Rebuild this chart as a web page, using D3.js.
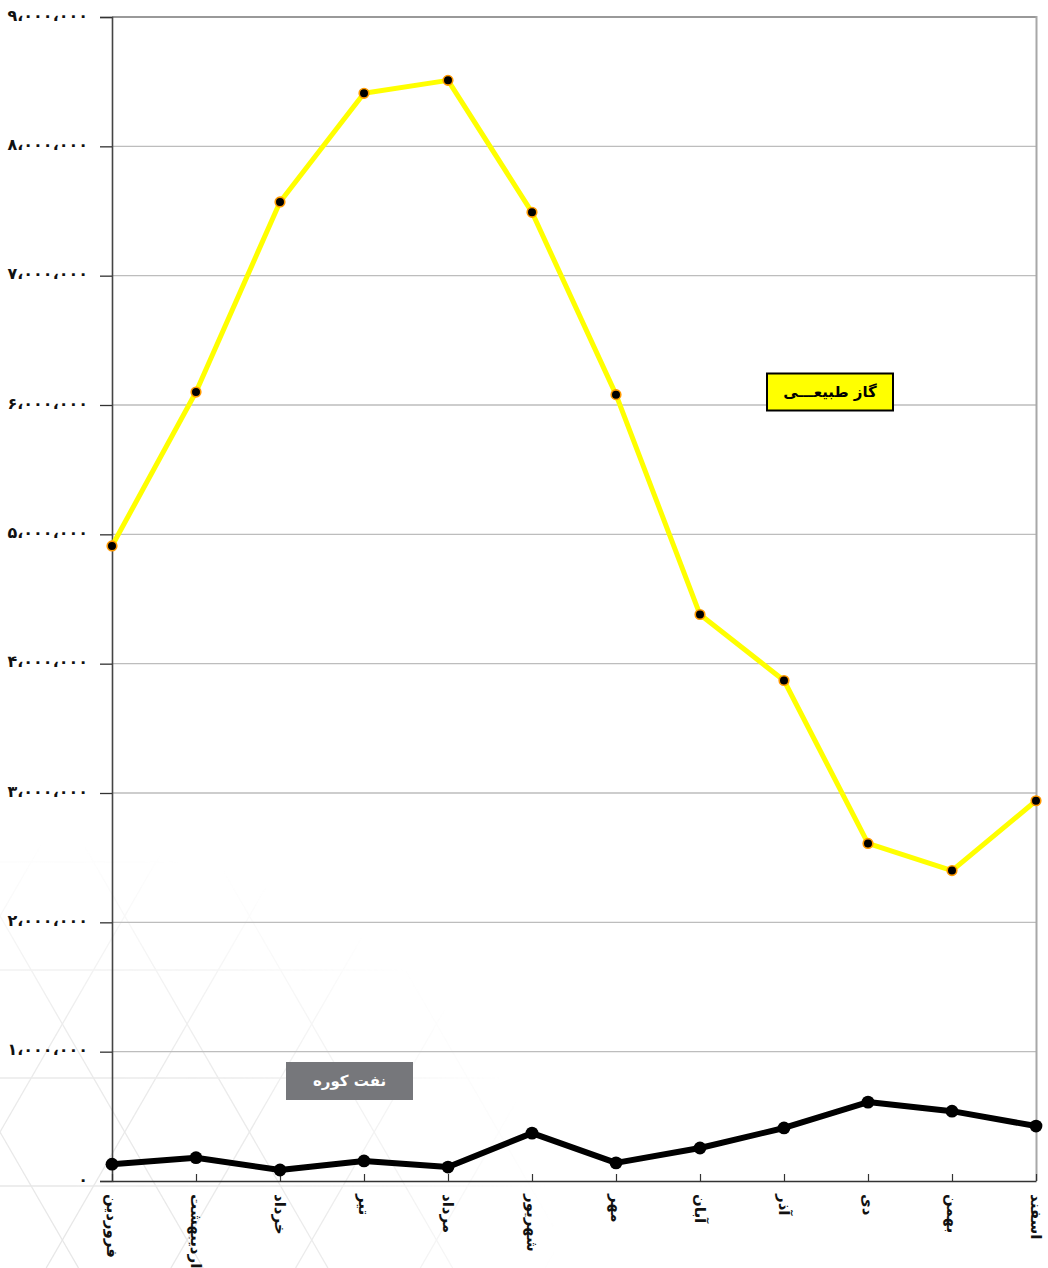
<!DOCTYPE html>
<html><head><meta charset="utf-8">
<script src="https://cdn.jsdelivr.net/npm/d3@7"></script>
<style>html,body{margin:0;padding:0;background:#fff;}svg{display:block;}</style>
</head><body>
<svg id="c" width="1048" height="1268"></svg>
<script>
const months = ["فروردین","اردیبهشت","خرداد","تیر","مرداد","شهریور","مهر","آبان","آذر","دی","بهمن","اسفند"];
const gasValues = [4910000,6100000,7570000,8410000,8510000,7490000,6080000,4380000,3870000,2610000,2400000,2940000];
const oilValues = [130000,180000,85000,155000,108000,370000,140000,255000,410000,610000,540000,425000];
const yTicks = [0,1000000,2000000,3000000,4000000,5000000,6000000,7000000,8000000,9000000];
const seriesNames = ["گاز طبیعـــی","نفت کوره"];

const svg = d3.select("#c");
const fa = n => {
  const s = d3.format(",")(n).replace(/,/g,"،");
  return s.replace(/[0-9]/g, d => "۰۱۲۳۴۵۶۷۸۹"[+d]);
};

// faint background lattice, masked with a soft radial fade
const defs = svg.append("defs");
const rg = defs.append("radialGradient").attr("id","rg").attr("cx",0.05).attr("cy",1).attr("r",0.75);
rg.append("stop").attr("offset","0").attr("stop-color","#fff");
rg.append("stop").attr("offset","0.55").attr("stop-color","#fff").attr("stop-opacity",0.8);
rg.append("stop").attr("offset","1").attr("stop-color","#fff").attr("stop-opacity",0);
defs.append("mask").attr("id","m").attr("maskUnits","userSpaceOnUse")
  .attr("x",0).attr("y",700).attr("width",700).attr("height",568)
  .append("rect").attr("x",0).attr("y",700).attr("width",700).attr("height",568).attr("fill","url(#rg)");
const bg = svg.append("g").attr("mask","url(#m)").attr("stroke","#e6e6e6").attr("stroke-width",1.3).attr("fill","none");
const h = 108, w = h/Math.sqrt(3);
for (let k=-14;k<16;k++){
  bg.append("line").attr("x1",k*2*w).attr("y1",700).attr("x2",k*2*w+ 568/Math.sqrt(3)).attr("y2",1268);
  bg.append("line").attr("x1",k*2*w).attr("y1",700).attr("x2",k*2*w- 568/Math.sqrt(3)).attr("y2",1268);
}
for (let y=754;y<=1268;y+=h){
  bg.append("line").attr("x1",0).attr("y1",y).attr("x2",700).attr("y2",y);
}

const x = d3.scalePoint().domain(months).range([112,1036]);
const y = d3.scaleLinear().domain([0,9000000]).range([1181,17]);

// gridlines
svg.append("g").selectAll("line").data(yTicks.filter(d=>d>0)).join("line")
  .attr("x1",112).attr("x2",1036).attr("y1",d=>y(d)).attr("y2",d=>y(d))
  .attr("stroke",d=>d===9000000?"#999":"#bdbdbd").attr("stroke-width",d=>d===9000000?2:1.3);
// right border
svg.append("line").attr("x1",1036.5).attr("x2",1036.5).attr("y1",16).attr("y2",1181).attr("stroke","#a8a8a8").attr("stroke-width",2);

// y axis
const yAxis = svg.append("g").attr("transform","translate(112,0)")
  .call(d3.axisLeft(y).tickValues(yTicks).tickSize(12).tickFormat(fa));
yAxis.select(".domain").attr("stroke","#444").attr("stroke-width",1.6);
yAxis.selectAll(".tick line").attr("stroke","#333").attr("stroke-width",1.3);
yAxis.selectAll(".tick text").attr("x",-24).attr("dy","0.2em").attr("font-family","DejaVu Sans").attr("font-weight","bold")
  .attr("font-size",16).attr("fill","#111").attr("direction","ltr");

// x axis
const xAxis = svg.append("g").attr("transform","translate(0,1181)")
  .call(d3.axisTop(x).tickSize(7).tickSizeOuter(0).tickFormat(""));
xAxis.select(".domain").attr("stroke","#333").attr("stroke-width",1.6);
xAxis.selectAll(".tick line").attr("stroke","#333").attr("stroke-width",1.2);

svg.append("g").selectAll("text").data(months).join("text")
  .attr("transform",d=>`translate(${x(d)},1194) rotate(90)`)
  .attr("dy","0.35em").attr("text-anchor","start")
  .attr("font-family","DejaVu Sans").attr("font-weight","bold").attr("font-size",15).attr("fill","#111")
  .text(d=>d);

// gas line
const line = d3.line().x((d,i)=>x(months[i])).y(d=>y(d));
svg.append("path").datum(gasValues).attr("d",line).attr("fill","none").attr("stroke","#ffff00").attr("stroke-width",5).attr("stroke-linejoin","round");
svg.append("g").selectAll("circle").data(gasValues).join("circle")
  .attr("cx",(d,i)=>x(months[i])).attr("cy",d=>y(d)).attr("r",4.8)
  .attr("fill","#000").attr("stroke","#ff9900").attr("stroke-width",1.6);

// oil line
svg.append("path").datum(oilValues).attr("d",line).attr("fill","none").attr("stroke","#000").attr("stroke-width",6).attr("stroke-linejoin","round");
svg.append("g").selectAll("circle").data(oilValues).join("circle")
  .attr("cx",(d,i)=>x(months[i])).attr("cy",d=>y(d)).attr("r",6.4).attr("fill","#000");

// legend boxes
const gb = svg.append("g");
gb.append("rect").attr("x",767).attr("y",373.5).attr("width",126).attr("height",37).attr("fill","#ffff00").attr("stroke","#000").attr("stroke-width",2);
gb.append("text").attr("x",830).attr("y",392).attr("dy","0.35em").attr("text-anchor","middle")
  .attr("font-family","DejaVu Sans").attr("font-weight","bold").attr("font-size",15).attr("fill","#000").text(seriesNames[0]);
const ob = svg.append("g");
ob.append("rect").attr("x",286).attr("y",1062).attr("width",127).attr("height",38).attr("fill","#76777b");
ob.append("text").attr("x",349.5).attr("y",1081).attr("dy","0.35em").attr("text-anchor","middle")
  .attr("font-family","DejaVu Sans").attr("font-weight","bold").attr("font-size",15).attr("fill","#fff").text(seriesNames[1]);
</script>
</body></html>
